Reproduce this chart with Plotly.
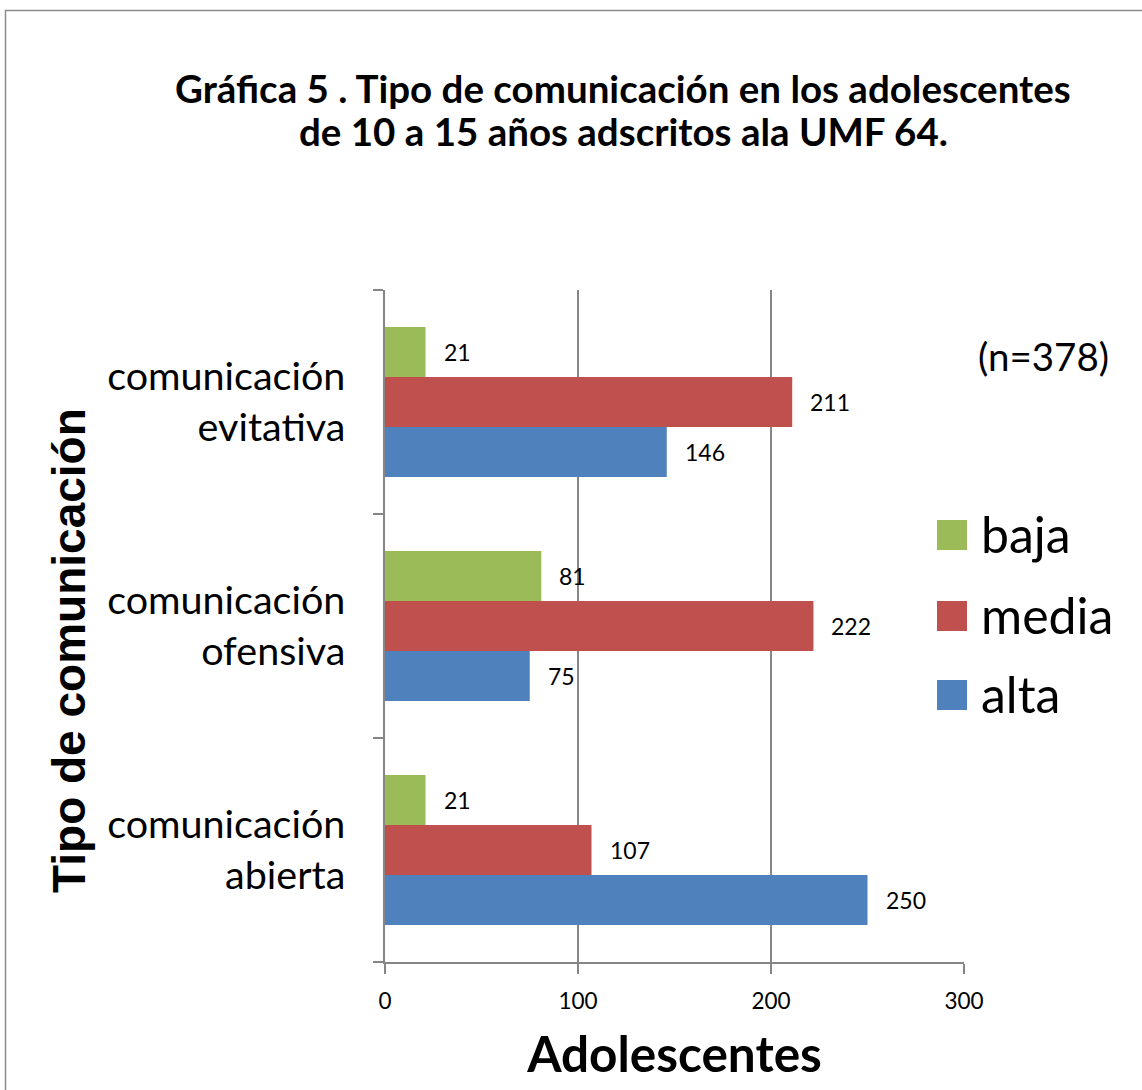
import plotly.graph_objects as go

# Categories (bottom to top) and counts per communication level
categories = ["comunicación<br>abierta", "comunicación<br>ofensiva", "comunicación<br>evitativa"]
alta = [250, 75, 146]
media = [107, 222, 211]
baja = [21, 81, 21]

series_names = ["alta", "media", "baja"]
series_values = [alta, media, baja]
series_colors = ["#4F81BD", "#C0504D", "#9BBB59"]

x_ticks = [0, 100, 200, 300]

title_lines = ["Gráfica 5 . Tipo de comunicación en los adolescentes",
               "de 10 a 15 años adscritos ala UMF 64."]

W, H = 1142, 1090
L, R, T, B = 385, 964, 290, 962  # plot area in pixels


def xp(px):
    return (px - L) / (R - L)


def yp(py):
    return (B - py) / (B - T)


BODY = "Lato, 'Open Sans', sans-serif"
GRID = "#868686"

fig = go.Figure()
for name, vals, col in zip(series_names, series_values, series_colors):
    fig.add_trace(go.Bar(
        y=categories, x=vals, name=name, orientation="h",
        marker=dict(color=col, line=dict(width=0)),
        showlegend=False,
    ))

# value labels beside each bar end
bar_px = (B - T) / 3 * (1 - 0.33) / 3
shifts = {"alta": -bar_px, "media": 0, "baja": bar_px}
annotations = []
for name, vals in zip(series_names, series_values):
    for cat, v in zip(categories, vals):
        annotations.append(dict(
            x=v, y=cat, xref="x", yref="y", text=str(v), showarrow=False,
            xanchor="left", yanchor="middle", xshift=16, yshift=shifts[name],
            font=dict(family=BODY, size=23, color="#000"),
        ))

# legend drawn as swatches + labels (top to bottom: baja, media, alta)
legend_rows = [("baja", "#9BBB59", 535), ("media", "#C0504D", 616), ("alta", "#4F81BD", 695)]
shapes = []
for lab, col, cy in legend_rows:
    shapes.append(dict(type="rect", xref="paper", yref="paper",
                       x0=xp(937), x1=xp(967), y0=yp(cy + 15), y1=yp(cy - 15),
                       fillcolor=col, line=dict(width=0), layer="above"))
    annotations.append(dict(x=xp(979), y=yp(cy - 1), xref="paper", yref="paper", text=lab,
                            showarrow=False, xanchor="left", yanchor="middle",
                            font=dict(family=BODY, size=50, color="#000")))

annotations.append(dict(x=xp(976), y=yp(356), xref="paper", yref="paper", text="(n=378)",
                        showarrow=False, xanchor="left", yanchor="middle",
                        font=dict(family=BODY, size=38.5, color="#000")))

# two-line chart title
for line, cy in zip(title_lines, [88, 131]):
    annotations.append(dict(x=xp(623), y=yp(cy), xref="paper", yref="paper",
                            text=f"<b>{line}</b>", showarrow=False,
                            xanchor="center", yanchor="middle",
                            font=dict(family=BODY, size=38.5, color="#000")))

# vertical axis title
annotations.append(dict(x=xp(69), y=yp(651), xref="paper", yref="paper",
                        text="<b>Tipo de comunicación</b>", textangle=-90, showarrow=False,
                        xanchor="center", yanchor="middle",
                        font=dict(family="'Liberation Sans', Arial, sans-serif", size=46, color="#000")))

# chart frame
shapes.append(dict(type="rect", xref="paper", yref="paper",
                   x0=xp(5.5), x1=xp(1160), y0=yp(1110), y1=yp(10.5),
                   line=dict(color="#8C8C8C", width=1.5), fillcolor="rgba(0,0,0,0)", layer="below"))

fig.update_layout(
    width=W, height=H,
    margin=dict(l=L, r=W - R, t=T, b=H - B, pad=0),
    paper_bgcolor="white", plot_bgcolor="white",
    barmode="group", bargap=0.33, bargroupgap=0,
    showlegend=False,
    xaxis=dict(
        range=[0, 300], tickvals=x_ticks, ticktext=[str(t) for t in x_ticks],
        showgrid=True, gridcolor=GRID, gridwidth=1.5,
        showline=True, linecolor=GRID, linewidth=1.5,
        ticks="outside", ticklen=10, tickcolor=GRID, tickwidth=1.5,
        ticklabelstandoff=8,
        tickfont=dict(family=BODY, size=22.5, color="#000"),
        zeroline=False, fixedrange=True,
        title=dict(text="<b>Adolescentes</b>", font=dict(family=BODY, size=49.5, color="#000"), standoff=25),
    ),
    yaxis=dict(
        type="category", categoryorder="array", categoryarray=categories,
        showgrid=False, showline=True, linecolor=GRID, linewidth=1.5,
        ticks="outside", ticklen=10, tickcolor=GRID, tickwidth=1.5, tickson="boundaries",
        ticklabelstandoff=30,
        tickfont=dict(family=BODY, size=39.5, color="#000"),
        zeroline=False, fixedrange=True,
    ),
    annotations=annotations,
    shapes=shapes,
)

fig.write_html("out.html")
